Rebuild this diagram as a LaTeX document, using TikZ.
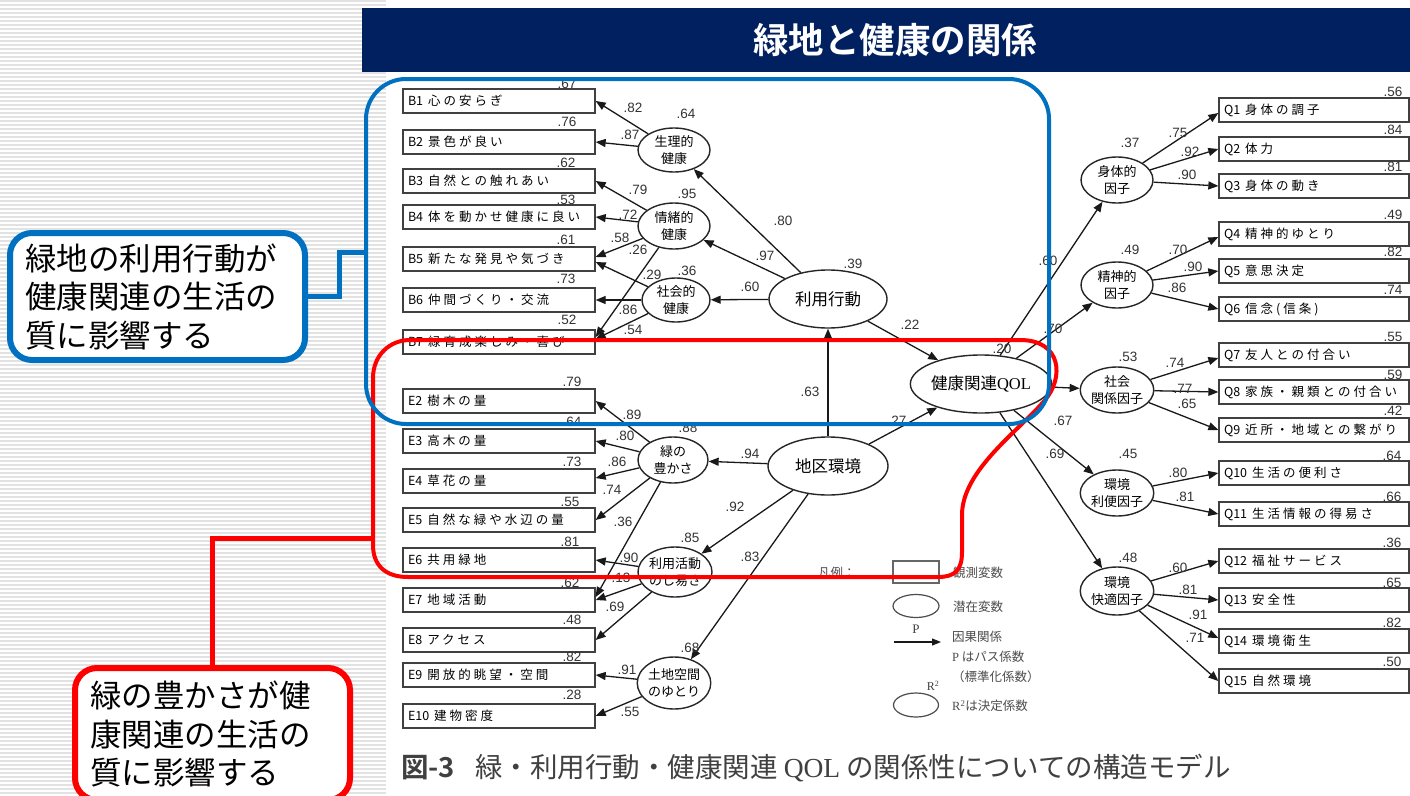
\documentclass[tikz,border=0pt]{standalone}
\usepackage{fontspec}
\setmainfont{Liberation Sans}
\newfontfamily\jp{Noto Sans CJK JP}[BoldFont={Noto Sans CJK JP Bold}]
\newfontfamily\jpsp{Noto Sans CJK JP}[LetterSpace=24]
\newfontfamily\serifnum{Liberation Serif}
\usetikzlibrary{shapes.geometric,arrows.meta}
\definecolor{hlblue}{RGB}{0,112,192}
\definecolor{hlred}{RGB}{255,0,0}
\definecolor{navy}{RGB}{0,32,96}
\definecolor{stripegray}{RGB}{226,226,226}
\newcommand\bxt[2]{\mbox{#1\hspace{5pt}{\jpsp #2}}}
\begin{document}
\begin{tikzpicture}[x=1pt,y=-1pt,
 obs/.style={draw=black!75, line width=1.3pt, rectangle, minimum height=24pt, inner xsep=5pt, inner ysep=0pt, align=left, font=\jp\fontsize{12.5}{14}\selectfont},
 lobs/.style={obs, minimum width=192pt, text width=182pt},
 robs/.style={obs, minimum width=190pt, text width=180pt},
 lat/.style={ellipse, draw=black!85, line width=1.4pt, inner sep=0pt, align=center, font=\jp\fontsize{13}{17}\selectfont},
 biglat/.style={lat, minimum width=118pt, minimum height=58pt, font=\jp\fontsize{16.5}{18}\selectfont},
 arr/.style={-{Triangle[length=10pt,width=8pt]}, line width=1.3pt, black!90},
 coef/.style={font=\fontsize{13.5}{13.5}\selectfont, text=black!80, inner sep=0pt},
 leg/.style={font=\jp\fontsize{12.5}{20}\selectfont, text=black!70, inner sep=0pt, anchor=west, align=left},
 hl/.style={line width=4pt},
 callout/.style={line width=6pt, fill=white, rounded corners=22pt, inner xsep=15pt, align=left, font=\jp\fontsize{31.5}{38.5}\selectfont}
]
\useasboundingbox (0,0) rectangle (1410,795);
\fill[white] (0,0) rectangle (1410,795);
% striped strip
\foreach \yy in {1,5,...,793} \draw[stripegray, line width=1.6pt] (0,\yy) -- (386,\yy);
% title
\node[fill=navy, minimum width=1048pt, minimum height=64pt, anchor=north west, inner sep=0pt] (titlebar) at (362,8) {};
\node[text=white, font=\jp\bfseries\fontsize{35.5}{38}\selectfont] (titletext) at (895,40) {緑地と健康の関係};

% left observed
\node[lobs] (B1) at (499,101) {\bxt{B1}{心の安らぎ}};
\node[lobs] (B2) at (499,142) {\bxt{B2}{景色が良い}};
\node[lobs] (B3) at (499,181) {\bxt{B3}{自然との触れあい}};
\node[lobs] (B4) at (499,217) {\bxt{B4}{体を動かせ健康に良い}};
\node[lobs] (B5) at (499,259) {\bxt{B5}{新たな発見や気づき}};
\node[lobs] (B6) at (499,300) {\bxt{B6}{仲間づくり・交流}};
\node[lobs] (B7) at (499,342) {\bxt{B7}{緑育成楽しみ・喜び}};
\node[lobs] (E2) at (499,401) {\bxt{E2}{樹木の量}};
\node[lobs] (E3) at (499,441) {\bxt{E3}{高木の量}};
\node[lobs] (E4) at (499,481) {\bxt{E4}{草花の量}};
\node[lobs] (E5) at (499,520) {\bxt{E5}{自然な緑や水辺の量}};
\node[lobs] (E6) at (499,560) {\bxt{E6}{共用緑地}};
\node[lobs] (E7) at (499,600) {\bxt{E7}{地域活動}};
\node[lobs] (E8) at (499,640) {\bxt{E8}{アクセス}};
\node[lobs] (E9) at (499,675) {\bxt{E9}{開放的眺望・空間}};
\node[lobs] (E10) at (499,716) {\bxt{E10}{建物密度}};

% right observed
\node[robs] (Q1) at (1314,110) {\bxt{Q1}{身体の調子}};
\node[robs] (Q2) at (1314,149) {\bxt{Q2}{体力}};
\node[robs] (Q3) at (1314,186) {\bxt{Q3}{身体の動き}};
\node[robs] (Q4) at (1314,234) {\bxt{Q4}{精神的ゆとり}};
\node[robs] (Q5) at (1314,271) {\bxt{Q5}{意思決定}};
\node[robs] (Q6) at (1314,309) {\bxt{Q6}{信念(信条)}};
\node[robs] (Q7) at (1314,355) {\bxt{Q7}{友人との付合い}};
\node[robs] (Q8) at (1314,392) {\bxt{Q8}{家族・親類との付合い}};
\node[robs] (Q9) at (1314,430) {\bxt{Q9}{近所・地域との繋がり}};
\node[robs] (Q10) at (1314,473) {\bxt{Q10}{生活の便利さ}};
\node[robs] (Q11) at (1314,514) {\bxt{Q11}{生活情報の得易さ}};
\node[robs] (Q12) at (1314,561) {\bxt{Q12}{福祉サービス}};
\node[robs] (Q13) at (1314,600) {\bxt{Q13}{安全性}};
\node[robs] (Q14) at (1314,641) {\bxt{Q14}{環境衛生}};
\node[robs] (Q15) at (1314,681) {\bxt{Q15}{自然環境}};

% latent
\node[lat, minimum width=72pt, minimum height=44pt] (seiri) at (674,150) {生理的\\健康};
\node[lat, minimum width=72pt, minimum height=46pt] (jocho) at (674,226) {情緒的\\健康};
\node[lat, minimum width=68pt, minimum height=44pt] (shakai) at (676,300) {社会的\\健康};
\node[biglat] (riyo) at (828,299) {利用行動};
\node[biglat] (qol) at (981,384) {健康関連{\serifnum QOL}};
\node[biglat, minimum width=120pt] (chiku) at (828,466) {地区環境};
\node[lat, minimum width=70pt, minimum height=46pt] (midori) at (673,460) {緑の\\豊かさ};
\node[lat, minimum width=74pt, minimum height=50pt] (katsudo) at (675,572) {利用活動\\のし易さ};
\node[lat, minimum width=72pt, minimum height=52pt] (tochi) at (674,683) {土地空間\\のゆとり};
\node[lat, minimum width=72pt, minimum height=46pt] (shintai) at (1117,180) {身体的\\因子};
\node[lat, minimum width=72pt, minimum height=46pt] (seishin) at (1117,285) {精神的\\因子};
\node[lat, minimum width=72pt, minimum height=46pt] (kankei) at (1117,390) {社会\\関係因子};
\node[lat, minimum width=72pt, minimum height=46pt] (rihen) at (1117,493) {環境\\利便因子};
\node[lat, minimum width=72pt, minimum height=48pt] (kaiteki) at (1117,591) {環境\\快適因子};

% arrows left
\draw[arr] (seiri) -- (B1.east);
\draw[arr] (seiri) -- (B2.east);
\draw[arr] (jocho) -- (B3.east);
\draw[arr] (jocho) -- (B4.east);
\draw[arr] (jocho) -- ([yshift=2pt]B5.east);
\draw[arr] (jocho) -- ([yshift=5pt]B7.east);
\draw[arr] (shakai) -- ([yshift=-3pt]B5.east);
\draw[arr] (shakai) -- (B6.east);
\draw[arr] (shakai) -- ([yshift=3pt]B7.east);
\draw[arr] (riyo) -- (seiri);
\draw[arr] (riyo) -- (jocho);
\draw[arr] (riyo) -- (shakai);
\draw[arr] (riyo) -- (qol);
\draw[arr] (chiku) -- (riyo);
\draw[arr] (chiku) -- (qol);
\draw[arr] (chiku) -- (midori);
\draw[arr] (chiku) -- (katsudo);
\draw[arr] (chiku) -- (tochi);
\draw[arr] (midori) -- (E2.east);
\draw[arr] (midori) -- (E3.east);
\draw[arr] (midori) -- ([yshift=3pt]E4.east);
\draw[arr] (midori) -- (E5.east);
\draw[arr] (midori) -- ([yshift=3pt]E7.east);
\draw[arr] (katsudo) -- (E6.east);
\draw[arr] (katsudo) -- (E7.east);
\draw[arr] (katsudo) -- (E8.east);
\draw[arr] (tochi) -- (E9.east);
\draw[arr] (tochi) -- (E10.east);
% arrows right
\draw[arr] (qol) -- (shintai);
\draw[arr] (qol) -- (seishin);
\draw[arr] (qol) -- (kankei);
\draw[arr] (qol) -- (rihen);
\draw[arr] (qol) -- (kaiteki);
\draw[arr] (shintai) -- ([yshift=-3pt]Q1.west);
\draw[arr] (shintai) -- (Q2.west);
\draw[arr] (shintai) -- (Q3.west);
\draw[arr] (seishin) -- ([yshift=-3pt]Q4.west);
\draw[arr] (seishin) -- (Q5.west);
\draw[arr] (seishin) -- (Q6.west);
\draw[arr] (kankei) -- ([yshift=-3pt]Q7.west);
\draw[arr] (kankei) -- (Q8.west);
\draw[arr] (kankei) -- (Q9.west);
\draw[arr] (rihen) -- (Q10.west);
\draw[arr] (rihen) -- (Q11.west);
\draw[arr] (kaiteki) -- (Q12.west);
\draw[arr] (kaiteki) -- (Q13.west);
\draw[arr] (kaiteki) -- ([yshift=3pt]Q14.west);
\draw[arr] (kaiteki) -- (Q15.west);

% R2 of left boxes
\node[coef] (rb1) at (567,84) {.67};
\node[coef] (rb2) at (567,122) {.76};
\node[coef] (rb3) at (566,163) {.62};
\node[coef] (rb4) at (566,200) {.53};
\node[coef] (rb5) at (566,240) {.61};
\node[coef] (rb6) at (566,279) {.73};
\node[coef] (rb7) at (567,320) {.52};
\node[coef] (re2) at (572,382) {.79};
\node[coef] (re3) at (572,422) {.64};
\node[coef] (re4) at (572,462) {.73};
\node[coef] (re5) at (570,502) {.55};
\node[coef] (re6) at (570,542) {.81};
\node[coef] (re7) at (570,583) {.62};
\node[coef] (re8) at (572,620) {.48};
\node[coef] (re9) at (572,657) {.82};
\node[coef] (re10) at (572,695) {.28};
% left coefficients
\node[coef] (c1) at (633,108) {.82};
\node[coef] (c2) at (630,135) {.87};
\node[coef] (c3) at (686,114) {.64};
\node[coef] (c4) at (638,190) {.79};
\node[coef] (c5) at (687,194) {.95};
\node[coef] (c6) at (628,215) {.72};
\node[coef] (c7) at (620,238) {.58};
\node[coef] (c8) at (638,250) {.26};
\node[coef] (c9) at (652,275) {.29};
\node[coef] (c10) at (687,271) {.36};
\node[coef] (c11) at (628,310) {.86};
\node[coef] (c12) at (633,330) {.54};
\node[coef] (c13) at (783,221) {.80};
\node[coef] (c14) at (765,256) {.97};
\node[coef] (c15) at (750,287) {.60};
\node[coef] (c16) at (853,264) {.39};
\node[coef] (c17) at (910,325) {.22};
\node[coef] (c18) at (1002,349) {.20};
\node[coef] (c19) at (810,392) {.63};
\node[coef] (c20) at (897,421) {.27};
\node[coef] (c21) at (750,454) {.94};
\node[coef] (c22) at (632,415) {.89};
\node[coef] (c23) at (688,428) {.88};
\node[coef] (c24) at (625,436) {.80};
\node[coef] (c25) at (617,462) {.86};
\node[coef] (c26) at (612,490) {.74};
\node[coef] (c27) at (623,522) {.36};
\node[coef] (c28) at (735,507) {.92};
\node[coef] (c29) at (690,538) {.85};
\node[coef] (c30) at (629,558) {.90};
\node[coef] (c31) at (621,578) {.13};
\node[coef] (c32) at (750,557) {.83};
\node[coef] (c33) at (615,607) {.69};
\node[coef] (c34) at (690,648) {.68};
\node[coef] (c35) at (627,670) {.91};
\node[coef] (c36) at (630,712) {.55};
% right coefficients
\node[coef] (d1) at (1048,261) {.60};
\node[coef] (d2) at (1053,329) {.70};
\node[coef] (d3) at (1063,421) {.67};
\node[coef] (d4) at (1055,454) {.69};
\node[coef] (d5) at (1130,143) {.37};
\node[coef] (d6) at (1178,133) {.75};
\node[coef] (d7) at (1190,152) {.92};
\node[coef] (d8) at (1187,175) {.90};
\node[coef] (d9) at (1130,250) {.49};
\node[coef] (d10) at (1178,250) {.70};
\node[coef] (d11) at (1193,267) {.90};
\node[coef] (d12) at (1177,288) {.86};
\node[coef] (d13) at (1128,357) {.53};
\node[coef] (d14) at (1175,363) {.74};
\node[coef] (d15) at (1183,389) {.77};
\node[coef] (d16) at (1187,404) {.65};
\node[coef] (d17) at (1128,454) {.45};
\node[coef] (d18) at (1178,473) {.80};
\node[coef] (d19) at (1185,497) {.81};
\node[coef] (d20) at (1128,558) {.48};
\node[coef] (d21) at (1178,568) {.60};
\node[coef] (d22) at (1188,590) {.81};
\node[coef] (d23) at (1198,615) {.91};
\node[coef] (d24) at (1195,638) {.71};
% R2 of right boxes
\node[coef] (rq1) at (1393,92) {.56};
\node[coef] (rq2) at (1393,130) {.84};
\node[coef] (rq3) at (1393,167) {.81};
\node[coef] (rq4) at (1393,215) {.49};
\node[coef] (rq5) at (1393,252) {.82};
\node[coef] (rq6) at (1393,290) {.74};
\node[coef] (rq7) at (1393,337) {.55};
\node[coef] (rq8) at (1393,375) {.59};
\node[coef] (rq9) at (1393,411) {.42};
\node[coef] (rq10) at (1392,456) {.64};
\node[coef] (rq11) at (1392,497) {.66};
\node[coef] (rq12) at (1392,543) {.36};
\node[coef] (rq13) at (1392,583) {.65};
\node[coef] (rq14) at (1392,623) {.82};
\node[coef] (rq15) at (1392,662) {.50};

% legend
\node[leg] (hanrei) at (818,573) {凡例：};
\node[draw=black!60, line width=1.2pt, minimum width=46pt, minimum height=22pt, inner sep=0pt] (lgbox) at (916,572) {};
\node[leg] (lgbt) at (953,573) {観測変数};
\node[ellipse, draw=black!70, line width=1.2pt, minimum width=46pt, minimum height=23pt, inner sep=0pt] (lgell) at (916,606) {};
\node[leg] (lget) at (953,607) {潜在変数};
\coordinate (lga) at (894,642);
\coordinate (lgb) at (941,642);
\draw[arr, -{Triangle[length=9pt,width=7pt]}, line width=1.1pt] (lga) -- (lgb);
\node[font=\serifnum\fontsize{13}{13}\selectfont, text=black!75] (lgp) at (916,629) {P};
\node[leg] (lgat) at (952,657) {因果関係\\{\serifnum P}\ はパス係数\\（標準化係数）};
\node[font=\serifnum\fontsize{12}{12}\selectfont, text=black!75] (lgr) at (933,686) {R\textsuperscript{2}};
\node[ellipse, draw=black!70, line width=1.2pt, minimum width=45pt, minimum height=24pt, inner sep=0pt] (lgell2) at (916,705) {};
\node[leg] (lgrt) at (952,706) {{\serifnum R\textsuperscript{2}}は決定係数};

% caption
\node[anchor=west, inner sep=0pt, text=black!75, font=\jp\fontsize{27.5}{29}\selectfont] (cap) at (401,768) {{\bfseries 図-3}\hspace{20pt}緑・利用行動・健康関連 {\serifnum QOL} の関係性についての構造モデル};

% highlight outlines
\draw[hlred, hl] (410,340) -- (1020,340) .. controls (1062,340) and (1064,378) .. (1045,400) .. controls (1020,430) and (962,470) .. (962,515) -- (962,552) .. controls (962,570) and (955,577) .. (938,577) -- (408,577) .. controls (385,577) and (373,565) .. (373,545) -- (373,378) .. controls (373,355) and (390,340) .. (410,340) -- cycle;
\draw[hlblue, hl, rounded corners=40pt] (366,79) rectangle (1049,424);

% callouts
\node[callout, draw=hlblue, minimum width=295pt, minimum height=127pt, text width=265pt] (cb) at (157.5,296.5) {緑地の利用行動が\\健康関連の生活の\\質に影響する};
\node[callout, draw=hlred, minimum width=275pt, minimum height=132pt, text width=245pt] (cr) at (212.5,734) {緑の豊かさが健\\康関連の生活の\\質に影響する};
\coordinate (bluebox) at (366,252);
\coordinate (redbox) at (373,538);
\draw[hlblue, line width=5pt] (cb.east) -- ++(31,0) |- (bluebox);
\draw[hlred, line width=5pt] (cr.north) |- (redbox);
\end{tikzpicture}
\end{document}
